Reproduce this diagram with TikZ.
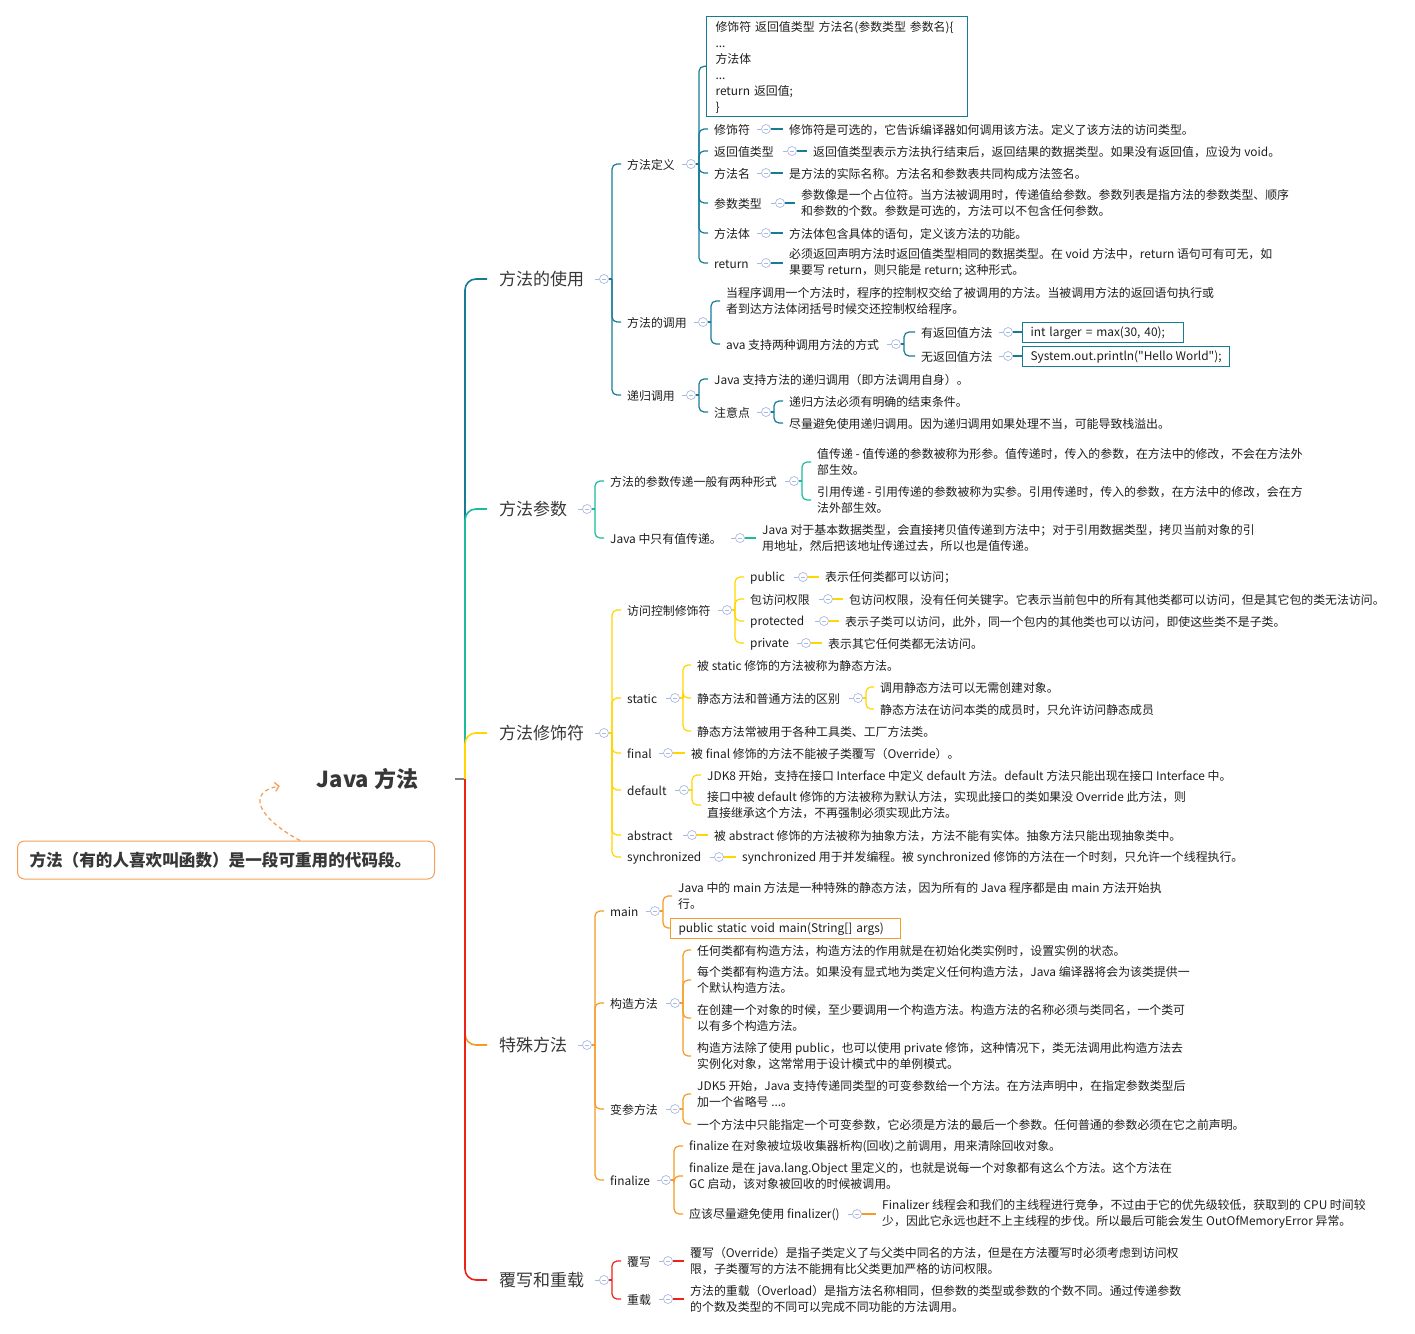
\documentclass[tikz,border=0pt]{standalone}
\usepackage{fontspec}
\setmainfont{Noto Sans CJK SC}
\newfontfamily\mqt{Noto Sans CJK SC}
\usetikzlibrary{arrows.meta}
\definecolor{cA}{RGB}{22,124,148}
\definecolor{cB}{RGB}{26,188,156}
\definecolor{cC}{RGB}{255,214,0}
\definecolor{cD}{RGB}{245,155,35}
\definecolor{cE}{RGB}{235,35,25}
\definecolor{cc}{RGB}{170,185,225}
\definecolor{tx}{RGB}{30,30,30}
\definecolor{tb}{RGB}{55,55,55}
\definecolor{nt}{RGB}{245,160,90}
\newcommand\mleaf{\fontsize{11.9pt}{16pt}\selectfont}
\newcommand\mbran{\fontsize{17pt}{20pt}\selectfont}
\newcommand\mroot{\fontsize{22pt}{26pt}\selectfont\bfseries}
\newcommand\mnote{\fontsize{16.6pt}{20pt}\selectfont\bfseries}
\newcommand\mst{\vrule width0pt height11.6pt depth0.5pt}
\begin{document}
\begin{tikzpicture}[x=1pt,y=-1pt,
  lf/.style={anchor=west, inner xsep=6pt, inner ysep=0pt, align=left, font=\mleaf, text=tx,
     execute at begin node=\mst, execute at end node=\mst},
  br/.style={anchor=west, inner xsep=12pt, inner ysep=0pt, font=\mbran, text=tb},
  circ/.style={circle, draw=cc, fill=white, minimum size=9pt, inner sep=0pt, line width=0.7pt,
     path picture={\draw[cc, line width=0.7pt] ([xshift=-2.3pt]path picture bounding box.center) -- ([xshift=2.3pt]path picture bounding box.center);},
     append after command={(\tikzlastnode.west) edge[cc, line width=0.7pt] ++(-4pt,0pt)}},
  bx/.style={lf, draw, line width=1pt, inner xsep=8pt, minimum height=20pt},
  l/.style={line width=1.2pt, rounded corners=5pt},
  lb/.style={line width=1.6pt, rounded corners=11pt}
]
\useasboundingbox (0,0) rectangle (1415,1333);

% ---------- root and note ----------
\node[font=\mroot, text=tb, minimum width=175pt, inner sep=0pt] (R) at (367.5,779) {Java 方法};
\coordinate (jR) at (465,779);
\node[anchor=west, draw=nt, line width=1pt, rounded corners=7pt, minimum width=417pt, minimum height=38pt,
      text width=393pt, inner xsep=12pt, align=left, font=\mnote, text=tb] (N) at (17,860)
      {方法（有的人喜欢叫函数）是一段可重用的代码段。};

% ---------- branch 1 ----------
\node[br] (B1) at (487,279) {方法的使用};
\node[circ] (cB1) at (604,279) {};
\coordinate (jB1) at (612,279);

\node[lf] (d1) at (621,164) {方法定义};
\node[circ] (cd1) at (691,164) {};
\coordinate (jd1) at (699,164);
\node[lf, draw=cA, line width=1pt, anchor=north west, text width=243pt, inner xsep=9pt, inner ysep=3pt] (cb) at (706,16)
  {修饰符 返回值类型 方法名(参数类型 参数名)\{\\...\\方法体\\...\\return 返回值;\\\}};
\node[lf] (a1) at (708,129) {修饰符};
\node[circ] (ca1) at (766,129) {};
\node[lf] (a1d) at (783,129) {修饰符是可选的，它告诉编译器如何调用该方法。定义了该方法的访问类型。};
\node[lf] (a2) at (708,151) {返回值类型};
\node[circ] (ca2) at (792,151) {};
\node[lf] (a2d) at (807,151) {返回值类型表示方法执行结束后，返回结果的数据类型。如果没有返回值，应设为 void。};
\node[lf] (a3) at (708,173) {方法名};
\node[circ] (ca3) at (766,173) {};
\node[lf] (a3d) at (783,173) {是方法的实际名称。方法名和参数表共同构成方法签名。};
\node[lf] (a4) at (708,203) {参数类型};
\node[circ] (ca4) at (780,203) {};
\node[lf] (a4d) at (795,203) {参数像是一个占位符。当方法被调用时，传递值给参数。参数列表是指方法的参数类型、顺序\\和参数的个数。参数是可选的，方法可以不包含任何参数。};
\node[lf] (a5) at (708,233) {方法体};
\node[circ] (ca5) at (766,233) {};
\node[lf] (a5d) at (783,233) {方法体包含具体的语句，定义该方法的功能。};
\node[lf] (a6) at (708,263) {return};
\node[circ] (ca6) at (766,263) {};
\node[lf] (a6d) at (783,263) {必须返回声明方法时返回值类型相同的数据类型。在 void 方法中，return 语句可有可无，如\\果要写 return，则只能是 return; 这种形式。};

\node[lf] (d2) at (621,322) {方法的调用};
\node[circ] (cd2) at (703,322) {};
\coordinate (jd2) at (711,322);
\node[lf] (e1) at (720,301) {当程序调用一个方法时，程序的控制权交给了被调用的方法。当被调用方法的返回语句执行或\\者到达方法体闭括号时候交还控制权给程序。};
\node[lf] (e2) at (720,344) {ava 支持两种调用方法的方式};
\node[circ] (ce2) at (896,344) {};
\coordinate (je2) at (904,344);
\node[lf] (f1) at (915,332) {有返回值方法};
\node[circ] (cf1) at (1008,332) {};
\node[bx, draw=cA, text width=145pt] (f1d) at (1022,332) {int larger = max(30, 40);};
\node[lf] (f2) at (915,356) {无返回值方法};
\node[circ] (cf2) at (1008,356) {};
\node[bx, draw=cA] (f2d) at (1022,356) {System.out.println({\mqt"}Hello World{\mqt"});};

\node[lf] (d3) at (621,395) {递归调用};
\node[circ] (cd3) at (691,395) {};
\coordinate (jd3) at (699,395);
\node[lf] (g1) at (708,379) {Java 支持方法的递归调用（即方法调用自身）。};
\node[lf] (g2) at (708,412) {注意点};
\node[circ] (cg2) at (766,412) {};
\coordinate (jg2) at (774,412);
\node[lf] (h1) at (783,401) {递归方法必须有明确的结束条件。};
\node[lf] (h2) at (783,423) {尽量避免使用递归调用。因为递归调用如果处理不当，可能导致栈溢出。};

% ---------- branch 2 ----------
\node[br] (B2) at (487,509) {方法参数};
\node[circ] (cB2) at (587,509) {};
\coordinate (jB2) at (595,509);
\node[lf] (p1) at (604,481) {方法的参数传递一般有两种形式};
\node[circ] (cp1) at (794,481) {};
\coordinate (jp1) at (802,481);
\node[lf] (q1) at (811,462) {值传递 - 值传递的参数被称为形参。值传递时，传入的参数，在方法中的修改，不会在方法外\\部生效。};
\node[lf] (q2) at (811,500) {引用传递 - 引用传递的参数被称为实参。引用传递时，传入的参数，在方法中的修改，会在方\\法外部生效。};
\node[lf] (p2) at (604,538) {Java 中只有值传递。};
\node[circ] (cp2) at (740,538) {};
\node[lf] (p2d) at (756,538) {Java 对于基本数据类型，会直接拷贝值传递到方法中；对于引用数据类型，拷贝当前对象的引\\用地址，然后把该地址传递过去，所以也是值传递。};

% ---------- branch 3 ----------
\node[br] (B3) at (487,733) {方法修饰符};
\node[circ] (cB3) at (604,733) {};
\coordinate (jB3) at (612,733);
\node[lf] (m1) at (621,610) {访问控制修饰符};
\node[circ] (cm1) at (727,610) {};
\coordinate (jm1) at (735,610);
\node[lf] (n1) at (744,577) {public};
\node[circ] (cn1) at (803,577) {};
\node[lf] (n1d) at (819,577) {表示任何类都可以访问；};
\node[lf] (n2) at (744,599) {包访问权限};
\node[circ] (cn2) at (828,599) {};
\node[lf] (n2d) at (843,599) {包访问权限，没有任何关键字。它表示当前包中的所有其他类都可以访问，但是其它包的类无法访问。};
\node[lf] (n3) at (744,621) {protected};
\node[circ] (cn3) at (824,621) {};
\node[lf] (n3d) at (839,621) {表示子类可以访问，此外，同一个包内的其他类也可以访问，即使这些类不是子类。};
\node[lf] (n4) at (744,643) {private};
\node[circ] (cn4) at (806,643) {};
\node[lf] (n4d) at (822,643) {表示其它任何类都无法访问。};

\node[lf] (m2) at (621,698) {static};
\node[circ] (cm2) at (675,698) {};
\coordinate (jm2) at (683,698);
\node[lf] (r1) at (691,665) {被 static 修饰的方法被称为静态方法。};
\node[lf] (r2) at (691,698) {静态方法和普通方法的区别};
\node[circ] (cr2) at (858,698) {};
\coordinate (jr2) at (866,698);
\node[lf] (s1) at (874,687) {调用静态方法可以无需创建对象。};
\node[lf] (s2) at (874,709) {静态方法在访问本类的成员时，只允许访问静态成员};
\node[lf] (r3) at (691,731) {静态方法常被用于各种工具类、工厂方法类。};

\node[lf] (m3) at (621,753) {final};
\node[circ] (cm3) at (668,753) {};
\node[lf] (m3d) at (685,753) {被 final 修饰的方法不能被子类覆写（Override）。};

\node[lf] (m4) at (621,790) {default};
\node[circ] (cm4) at (684,790) {};
\coordinate (jm4) at (692,790);
\node[lf] (t1) at (701,775) {JDK8 开始，支持在接口 Interface 中定义 default 方法。default 方法只能出现在接口 Interface 中。};
\node[lf] (t2) at (701,805) {接口中被 default 修饰的方法被称为默认方法，实现此接口的类如果没 Override 此方法，则\\直接继承这个方法，不再强制必须实现此方法。};

\node[lf] (m5) at (621,835) {abstract};
\node[circ] (cm5) at (692,835) {};
\node[lf] (m5d) at (708,835) {被 abstract 修饰的方法被称为抽象方法，方法不能有实体。抽象方法只能出现抽象类中。};
\node[lf] (m6) at (621,857) {synchronized};
\node[circ] (cm6) at (719,857) {};
\node[lf] (m6d) at (736,857) {synchronized 用于并发编程。被 synchronized 修饰的方法在一个时刻，只允许一个线程执行。};

% ---------- branch 4 ----------
\node[br] (B4) at (487,1045) {特殊方法};
\node[circ] (cB4) at (587,1045) {};
\coordinate (jB4) at (595,1045);
\node[lf] (u1) at (604,911) {main};
\node[circ] (cu1) at (655,911) {};
\coordinate (ju1) at (663,911);
\node[lf] (v1) at (672,896) {Java 中的 main 方法是一种特殊的静态方法，因为所有的 Java 程序都是由 main 方法开始执\\行。};
\node[bx, draw=cD, text width=214pt] (v2) at (670,928) {public static void main(String[] args)};

\node[lf] (u2) at (604,1003) {构造方法};
\node[circ] (cu2) at (675,1003) {};
\coordinate (ju2) at (683,1003);
\node[lf] (w1) at (691,950) {任何类都有构造方法，构造方法的作用就是在初始化类实例时，设置实例的状态。};
\node[lf] (w2) at (691,980) {每个类都有构造方法。如果没有显式地为类定义任何构造方法，Java 编译器将会为该类提供一\\个默认构造方法。};
\node[lf] (w3) at (691,1018) {在创建一个对象的时候，至少要调用一个构造方法。构造方法的名称必须与类同名，一个类可\\以有多个构造方法。};
\node[lf] (w4) at (691,1056) {构造方法除了使用 public，也可以使用 private 修饰，这种情况下，类无法调用此构造方法去\\实例化对象，这常常用于设计模式中的单例模式。};

\node[lf] (u3) at (604,1109) {变参方法};
\node[circ] (cu3) at (675,1109) {};
\coordinate (ju3) at (683,1109);
\node[lf] (x1) at (691,1094) {JDK5 开始，Java 支持传递同类型的可变参数给一个方法。在方法声明中，在指定参数类型后\\加一个省略号 ...。};
\node[lf] (x2) at (691,1124) {一个方法中只能指定一个可变参数，它必须是方法的最后一个参数。任何普通的参数必须在它之前声明。};

\node[lf] (u4) at (604,1180) {finalize};
\node[circ] (cu4) at (666,1180) {};
\coordinate (ju4) at (674,1180);
\node[lf] (y1) at (683,1146) {finalize 在对象被垃圾收集器析构(回收)之前调用，用来清除回收对象。};
\node[lf] (y2) at (683,1176) {finalize 是在 java.lang.Object 里定义的，也就是说每一个对象都有这么个方法。这个方法在\\GC 启动，该对象被回收的时候被调用。};
\node[lf] (y3) at (683,1214) {应该尽量避免使用 finalizer()};
\node[circ] (cy3) at (857,1214) {};
\node[lf] (y3d) at (876,1214) {Finalizer 线程会和我们的主线程进行竞争，不过由于它的优先级较低，获取到的 CPU 时间较\\少，因此它永远也赶不上主线程的步伐。所以最后可能会发生 OutOfMemoryError 异常。};

% ---------- branch 5 ----------
\node[br] (B5) at (487,1280) {覆写和重载};
\node[circ] (cB5) at (604,1280) {};
\coordinate (jB5) at (612,1280);
\node[lf] (o1) at (621,1261) {覆写};
\node[circ] (co1) at (668,1261) {};
\node[lf] (o1d) at (684,1261) {覆写（Override）是指子类定义了与父类中同名的方法，但是在方法覆写时必须考虑到访问权\\限，子类覆写的方法不能拥有比父类更加严格的访问权限。};
\node[lf] (o2) at (621,1299) {重载};
\node[circ] (co2) at (668,1299) {};
\node[lf] (o2d) at (684,1299) {方法的重载（Overload）是指方法名称相同，但参数的类型或参数的个数不同。通过传递参数\\的个数及类型的不同可以完成不同功能的方法调用。};

% ---------- connectors ----------
\draw[line width=1.2pt, gray] (R.east) -- (jR);
\draw[lb, cA] (jR) |- (B1.west);
\draw[lb, cB] (jR) |- (B2.west);
\draw[lb, cC] (jR) |- (B3.west);
\draw[lb, cD] (jR) |- (B4.west);
\draw[lb, cE] (jR) |- (B5.west);

% branch 1
\draw[l, cA] (cB1.east) -- (jB1);
\foreach \c in {d1,d2,d3} \draw[l, cA] (jB1) |- (\c.west);
\draw[l, cA] (cd1.east) -- (jd1);
\foreach \c in {cb,a1,a2,a3,a4,a5,a6} \draw[l, cA] (jd1) |- (\c.west);
\foreach \i in {1,...,6} \draw[l, cA] (ca\i.east) -- (a\i d.west);
\draw[l, cA] (cd2.east) -- (jd2);
\foreach \c in {e1,e2} \draw[l, cA] (jd2) |- (\c.west);
\draw[l, cA] (ce2.east) -- (je2);
\foreach \c in {f1,f2} \draw[l, cA] (je2) |- (\c.west);
\draw[l, cA] (cf1.east) -- (f1d.west);
\draw[l, cA] (cf2.east) -- (f2d.west);
\draw[l, cA] (cd3.east) -- (jd3);
\foreach \c in {g1,g2} \draw[l, cA] (jd3) |- (\c.west);
\draw[l, cA] (cg2.east) -- (jg2);
\foreach \c in {h1,h2} \draw[l, cA] (jg2) |- (\c.west);

% branch 2
\draw[l, cB] (cB2.east) -- (jB2);
\foreach \c in {p1,p2} \draw[l, cB] (jB2) |- (\c.west);
\draw[l, cB] (cp1.east) -- (jp1);
\foreach \c in {q1,q2} \draw[l, cB] (jp1) |- (\c.west);
\draw[l, cB] (cp2.east) -- (p2d.west);

% branch 3
\draw[l, cC] (cB3.east) -- (jB3);
\foreach \c in {m1,m2,m3,m4,m5,m6} \draw[l, cC] (jB3) |- (\c.west);
\draw[l, cC] (cm1.east) -- (jm1);
\foreach \c in {n1,n2,n3,n4} \draw[l, cC] (jm1) |- (\c.west);
\foreach \i in {1,...,4} \draw[l, cC] (cn\i.east) -- (n\i d.west);
\draw[l, cC] (cm2.east) -- (jm2);
\foreach \c in {r1,r2,r3} \draw[l, cC] (jm2) |- (\c.west);
\draw[l, cC] (cr2.east) -- (jr2);
\foreach \c in {s1,s2} \draw[l, cC] (jr2) |- (\c.west);
\draw[l, cC] (cm3.east) -- (m3d.west);
\draw[l, cC] (cm4.east) -- (jm4);
\foreach \c in {t1,t2} \draw[l, cC] (jm4) |- (\c.west);
\draw[l, cC] (cm5.east) -- (m5d.west);
\draw[l, cC] (cm6.east) -- (m6d.west);

% branch 4
\draw[l, cD] (cB4.east) -- (jB4);
\foreach \c in {u1,u2,u3,u4} \draw[l, cD] (jB4) |- (\c.west);
\draw[l, cD] (cu1.east) -- (ju1);
\foreach \c in {v1,v2} \draw[l, cD] (ju1) |- (\c.west);
\draw[l, cD] (cu2.east) -- (ju2);
\foreach \c in {w1,w2,w3,w4} \draw[l, cD] (ju2) |- (\c.west);
\draw[l, cD] (cu3.east) -- (ju3);
\foreach \c in {x1,x2} \draw[l, cD] (ju3) |- (\c.west);
\draw[l, cD] (cu4.east) -- (ju4);
\foreach \c in {y1,y2,y3} \draw[l, cD] (ju4) |- (\c.west);
\draw[l, cD] (cy3.east) -- (y3d.west);

% branch 5
\draw[l, cE] (cB5.east) -- (jB5);
\foreach \c in {o1,o2} \draw[l, cE] (jB5) |- (\c.west);
\draw[l, cE] (co1.east) -- (o1d.west);
\draw[l, cE] (co2.east) -- (o2d.west);

% note arrow
\draw[nt, line width=1.3pt, dash pattern=on 4pt off 3pt, -{Straight Barb[length=4pt, width=9pt]}]
  ([xshift=74pt]N.north) .. controls (258,818) and (246,792) .. ([yshift=-7pt]R.west);
\end{tikzpicture}
\end{document}
